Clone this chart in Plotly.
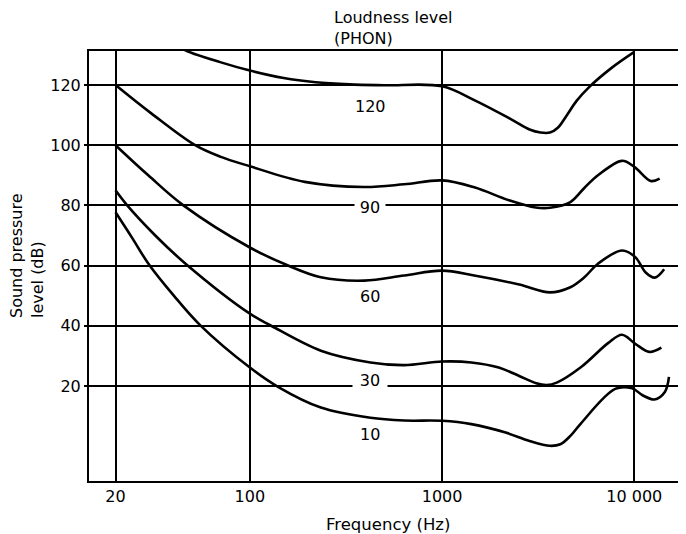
import plotly.graph_objects as go

# ---- data (frequency in Hz, sound pressure level in dB) ----
phon120_f = [40, 47, 70, 100, 150, 220, 330, 500, 1000, 1470, 2230, 2850, 3250, 3640, 4000, 4440, 5020, 5820, 7620, 10000]
phon120_db = [133.7, 131.3, 127.6, 124.8, 122.3, 120.9, 120.2, 119.9, 119.6, 115.0, 109.0, 105.2, 104.2, 104.2, 105.8, 109.8, 114.8, 119.3, 125.7, 131.0]

phon90_f = [20, 30.8, 51.9, 70, 100, 193, 394, 635, 1000, 1470, 2230, 3070, 3640, 4650, 5480, 6470, 8630, 10000, 12180, 13550]
phon90_db = [120, 110.5, 100, 96.2, 93, 87.8, 86.1, 87, 88.3, 86, 81.7, 79.3, 79.2, 81.1, 85.7, 90, 94.8, 92.8, 88.1, 88.9]

phon60_f = [20, 29.6, 45.1, 100, 158, 234, 394, 635, 1000, 1470, 2520, 3640, 4650, 5480, 6470, 8630, 10120, 11460, 12790, 14300]
phon60_db = [100, 90, 80, 66, 60, 56.1, 55, 56.7, 58.3, 56.7, 53.7, 51.1, 52.8, 56, 60.6, 65, 62.8, 57.7, 56, 58.8]

phon30_f = [20, 23, 32.2, 46.1, 100, 129, 234, 424, 635, 1000, 1420, 1970, 2520, 3090, 3500, 3950, 5270, 7330, 8630, 10120, 11990, 13830]
phon30_db = [85, 80, 70, 60.7, 44, 40, 31.7, 27.8, 26.9, 28.1, 27.8, 26.1, 23.3, 20.9, 20.3, 21.1, 26.2, 34.3, 37, 34, 31.3, 32.7]

phon10_f = [20, 24.4, 29.6, 40.2, 54.9, 100, 140, 234, 424, 635, 1000, 1420, 2140, 2850, 3640, 4120, 4650, 5270, 7950, 9750, 11040, 12730, 14420, 15150]
phon10_db = [77.7, 69.2, 60.7, 50, 40.3, 26.1, 19.7, 12.8, 9.4, 8.5, 8.4, 7.3, 4.5, 1.7, 0.1, 0.6, 3.4, 7.5, 19, 19.2, 16.9, 15.5, 18, 23]

x_tickvals = [20, 100, 1000, 10000]
x_ticktext = ["20", "100", "1000", "10 000"]
y_tickvals = [20, 40, 60, 80, 100, 120]
y_ticktext = ["20", "40", "60", "80", "100", "120"]

curve_labels = ["120", "90", "60", "30", "10"]
curve_label_db = [112.7, 79.6, 49.7, 22.0, 3.7]

FONT = "DejaVu Sans"

fig = go.Figure()
for f, db in [(phon120_f, phon120_db), (phon90_f, phon90_db), (phon60_f, phon60_db),
              (phon30_f, phon30_db), (phon10_f, phon10_db)]:
    fig.add_trace(go.Scatter(x=f, y=db, mode="lines",
                             line=dict(color="black", width=2.6, shape="spline", smoothing=1.0),
                             showlegend=False, hoverinfo="skip"))

# curve labels (x in log10 units on log axis); 90 and 30 interrupt their gridline
for txt, yv in zip(curve_labels, curve_label_db):
    if txt in ("90", "30"):
        fig.add_annotation(x=2.625, y=yv, xref="x", yref="y", text=txt, showarrow=False,
                           font=dict(family=FONT, size=16, color="black"),
                           bgcolor="white", borderpad=2,
                           width=26 if txt == "90" else 30, height=16)
    else:
        fig.add_annotation(x=2.625, y=yv, xref="x", yref="y", text=txt, showarrow=False,
                           font=dict(family=FONT, size=16, color="black"))

fig.add_annotation(x=0.4065, y=1.0535, xref="paper", yref="paper",
                   text="Loudness level<br>(PHON)", showarrow=False, align="left",
                   xanchor="left", yanchor="middle",
                   font=dict(family=FONT, size=16, color="black"))

fig.add_annotation(x=-0.1047, y=0.5244, xref="paper", yref="paper",
                   text="Sound pressure<br>level (dB)", showarrow=False, align="left",
                   textangle=-90, xanchor="center", yanchor="middle",
                   font=dict(family=FONT, size=16, color="black"))

fig.add_annotation(x=0.5008, y=-0.1023, xref="paper", yref="paper",
                   text="Frequency (Hz)", showarrow=False,
                   xanchor="center", yanchor="middle",
                   font=dict(family=FONT, size=16.5, color="black"))

# the page body adds an 8px offset, so margins are shifted by 8px
fig.update_layout(
    width=686, height=534,
    margin=dict(l=81, r=8, t=43, b=61, pad=0),
    paper_bgcolor="white", plot_bgcolor="white",
    xaxis=dict(type="log", range=[1.163, 4.269], tickvals=x_tickvals, ticktext=x_ticktext,
               showgrid=True, gridcolor="black", gridwidth=2,
               showline=True, linecolor="black", linewidth=2, mirror=True,
               ticks="", zeroline=False,
               tickfont=dict(family=FONT, size=16, color="black")),
    yaxis=dict(range=[-11.6, 131.3], tickvals=y_tickvals, ticktext=y_ticktext,
               showgrid=True, gridcolor="black", gridwidth=2,
               showline=True, linecolor="black", linewidth=2, mirror=False,
               ticks="outside", ticklen=3, tickwidth=2, tickcolor="black", zeroline=False,
               tickfont=dict(family=FONT, size=16, color="black")),
)

fig.write_html("out.html")
